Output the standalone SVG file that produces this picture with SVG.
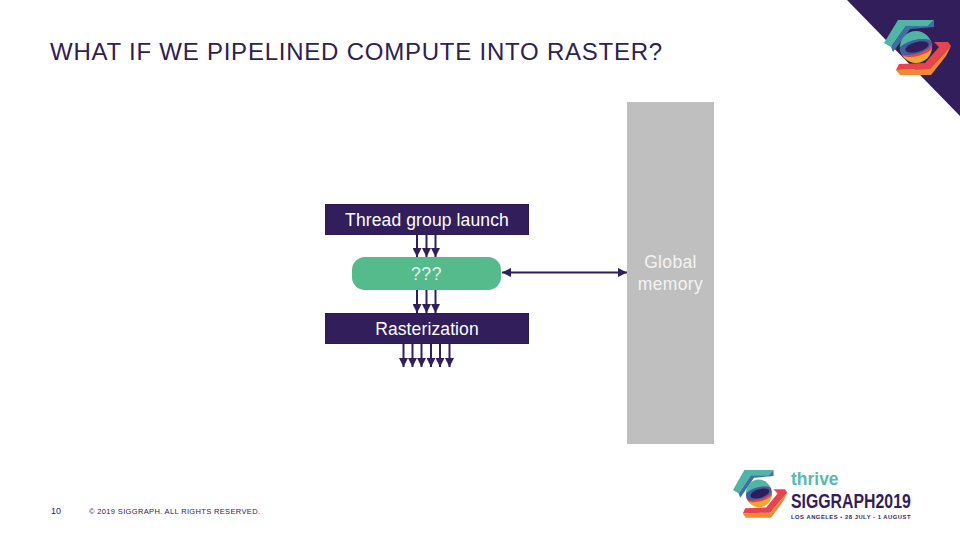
<svg xmlns="http://www.w3.org/2000/svg" width="960" height="540" viewBox="0 0 960 540">
<style>
.s{font-family:"Liberation Sans",Arial,sans-serif}
.box{fill:#321e5a;stroke:#2a1a4e;stroke-width:1}
.w{fill:#fff;font-size:17.500px;text-anchor:middle;letter-spacing:.12px}
.g{fill:#f4f4f4;font-size:17.500px;text-anchor:middle;letter-spacing:.35px}
.c line{stroke:#321e5a;stroke-width:2;fill:none}
</style>
<defs>
<marker id="a" markerUnits="userSpaceOnUse" markerWidth="10" markerHeight="9" refX="9" refY="4.500" orient="auto-start-reverse"><path d="M0 0L9 4.500L0 9z" fill="#321e5a"/></marker>
<clipPath id="ball"><circle cx="32" cy="27" r="16"/></clipPath>
<g id="logo">
<path d="M14 0H50L44 6H22L7 27L0 23z" fill="#4fb5a5"/>
<path d="M22 6H44L50 0V7L26 9L9 32L7 27z" fill="#3f6fa5"/>
<path d="M50 22H64L67 26L46 49L12 50L15 44L41 43L55 27z" fill="#e8444f"/>
<path d="M12 50L46 49L67 26L62 36L47 55H16z" fill="#f08a32"/>
<g clip-path="url(#ball)">
<rect x="14" y="9" width="36" height="18" fill="#4fb5a5"/>
<rect x="14" y="27" width="36" height="18" fill="#f2a62e"/>
<ellipse cx="33" cy="28" rx="18" ry="8" transform="rotate(-15 33 28)" fill="#e8444f"/>
<ellipse cx="31" cy="27" rx="17" ry="7" transform="rotate(-15 31 27)" fill="#3f5fa0"/>
<ellipse cx="33" cy="27" rx="12" ry="5" transform="rotate(-15 33 27)" fill="#2e1f5c"/>
</g>
</g>
</defs>
<rect width="960" height="540" fill="#fff"/>
<g id="corner">
<path d="M847 0H960V116z" fill="#321e5a"/>
<use href="#logo" x="884" y="20"/>
</g>
<text class="s" x="50" y="60" font-size="24" letter-spacing=".77" fill="#2e2150">WHAT IF WE PIPELINED COMPUTE INTO RASTER?</text>
<g id="memory">
<rect x="627" y="102" width="87" height="342" fill="#bfbfbf"/>
<text class="s g"><tspan x="670.500" y="268">Global</tspan><tspan x="670.500" y="290">memory</tspan></text>
</g>
<g id="connectors" class="c">
<line x1="417" y1="235" x2="417" y2="257" marker-end="url(#a)"/>
<line x1="426.500" y1="235" x2="426.500" y2="257" marker-end="url(#a)"/>
<line x1="435.500" y1="235" x2="435.500" y2="257" marker-end="url(#a)"/>
<line x1="417" y1="290" x2="417" y2="313" marker-end="url(#a)"/>
<line x1="426.500" y1="290" x2="426.500" y2="313" marker-end="url(#a)"/>
<line x1="435.500" y1="290" x2="435.500" y2="313" marker-end="url(#a)"/>
<line x1="403.500" y1="344" x2="403.500" y2="367" marker-end="url(#a)"/>
<line x1="412.500" y1="344" x2="412.500" y2="367" marker-end="url(#a)"/>
<line x1="421.500" y1="344" x2="421.500" y2="367" marker-end="url(#a)"/>
<line x1="431" y1="344" x2="431" y2="367" marker-end="url(#a)"/>
<line x1="440" y1="344" x2="440" y2="367" marker-end="url(#a)"/>
<line x1="449.500" y1="344" x2="449.500" y2="367" marker-end="url(#a)"/>
<line x1="502" y1="272.500" x2="627" y2="272.500" marker-start="url(#a)" marker-end="url(#a)"/>
</g>
<g id="thread-group-launch">
<rect class="box" x="325.500" y="204.500" width="203" height="30"/>
<text class="s w" x="427" y="226">Thread group launch</text>
</g>
<g id="unknown">
<rect x="352" y="257" width="149" height="33" rx="13" fill="#55bb8d"/>
<text class="s w" x="426.500" y="280" style="letter-spacing:.6px;fill:#e8f6ef">???</text>
</g>
<g id="rasterization">
<rect class="box" x="325.500" y="313.500" width="203" height="30"/>
<text class="s w" x="427" y="335">Rasterization</text>
</g>
<text class="s" x="51" y="514" font-size="9" fill="#2e2150">10</text>
<text class="s" x="89" y="514" font-size="7.500" textLength="171" fill="#2e2150">© 2019 SIGGRAPH. ALL RIGHTS RESERVED.</text>
<g id="brand">
<use href="#logo" transform="translate(733 470) scale(.81 .87)"/>
<text class="s" transform="translate(791 485) scale(.92 1)" font-size="19" font-weight="bold" fill="#5cb8a8">thrive</text>
<text class="s" transform="translate(791 508) scale(.755 1)" font-size="21" font-weight="bold" fill="#321e5a">SIGGRAPH2019</text>
<text class="s" x="791" y="518.500" font-size="5.800" font-weight="bold" letter-spacing=".53" fill="#321e5a">LOS ANGELES • 28 JULY - 1 AUGUST</text>
</g>
</svg>
